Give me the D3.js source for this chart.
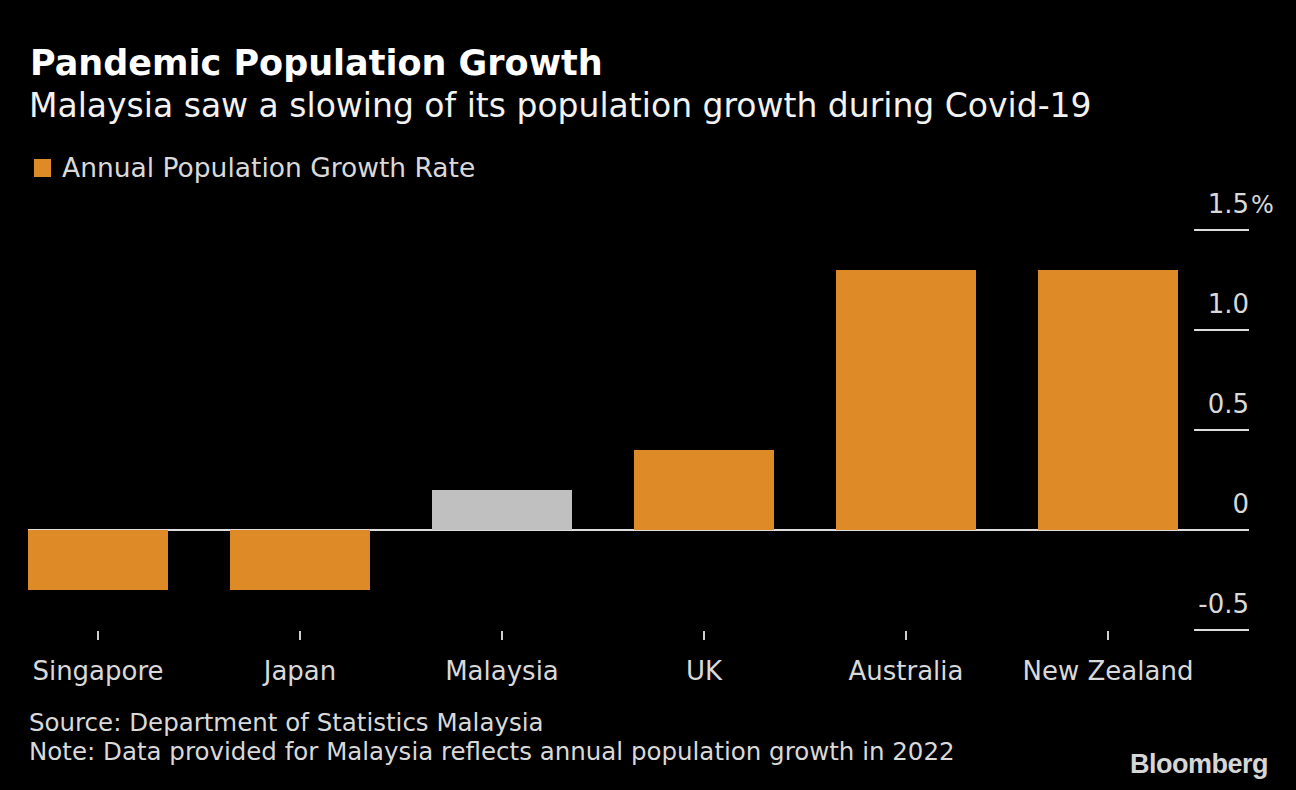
<!DOCTYPE html>
<html>
<head>
<meta charset="utf-8">
<script src="https://cdn.jsdelivr.net/npm/d3@7"></script>
<style>
  html, body { margin: 0; padding: 0; background: #000; }
  svg { display: block; }
  text { font-family: "DejaVu Sans", sans-serif; }
</style>
</head>
<body>
<svg id="chart" width="1296" height="790"></svg>
<script>
const categories = ["Singapore", "Japan", "Malaysia", "UK", "Australia", "New Zealand"];
const growthRates = [-0.3, -0.3, 0.2, 0.4, 1.3, 1.3];
const highlighted = ["Malaysia"];
const yTickValues = [-0.5, 0, 0.5, 1.0, 1.5];
const yTickLabels = ["-0.5", "0", "0.5", "1.0", "1.5"];
const titleText = "Pandemic Population Growth";
const subtitleText = "Malaysia saw a slowing of its population growth during Covid-19";
const legendText = "Annual Population Growth Rate";
const sourceText = "Source: Department of Statistics Malaysia";
const noteText = "Note: Data provided for Malaysia reflects annual population growth in 2022";

const ORANGE = "#de8a26";
const GRAY = "#c0c0c0";
const LINE = "#dcdcdc";
const TEXT = "#d9d9d9";

const svg = d3.select("#chart");
svg.append("rect").attr("width", 1296).attr("height", 790).attr("fill", "#000");

// Header
svg.append("text").attr("x", 30).attr("y", 75).attr("fill", "#fff")
  .attr("font-size", 35).attr("font-weight", "bold").text(titleText);
svg.append("text").attr("x", 29).attr("y", 117).attr("fill", "#f2f2f2")
  .attr("font-size", 33).text(subtitleText);

// Legend
svg.append("rect").attr("x", 34).attr("y", 159).attr("width", 17).attr("height", 18).attr("fill", ORANGE);
svg.append("text").attr("x", 62).attr("y", 177).attr("fill", TEXT)
  .attr("font-size", 26.5).text(legendText);

// Scales
const x = d3.scaleBand().domain(categories).range([28, 1178])
  .paddingInner(62 / 202).paddingOuter(0);
const y = d3.scaleLinear().domain([-0.5, 1.5]).range([630, 230]);

const gridX0 = 1194, gridX1 = 1249;

// Y gridlines (right side)
svg.append("g").selectAll("line").data(yTickValues.filter(d => d !== 0)).join("line")
  .attr("x1", gridX0).attr("x2", gridX1)
  .attr("y1", d => y(d)).attr("y2", d => y(d))
  .attr("stroke", LINE).attr("stroke-width", 2);

// Zero line
svg.append("line").attr("x1", x.range()[0]).attr("x2", gridX1)
  .attr("y1", y(0)).attr("y2", y(0)).attr("stroke", LINE).attr("stroke-width", 2);

// Y labels
svg.append("g").selectAll("text").data(yTickValues).join("text")
  .attr("x", gridX1).attr("y", d => y(d) - 17)
  .attr("text-anchor", "end").attr("fill", TEXT).attr("font-size", 26)
  .text((d, i) => yTickLabels[i]);
svg.append("text").attr("x", gridX1 + 2).attr("y", y(1.5) - 17)
  .attr("fill", TEXT).attr("font-size", 24).text("%");

// Bars
svg.append("g").selectAll("rect").data(categories).join("rect")
  .attr("x", d => x(d))
  .attr("width", x.bandwidth())
  .attr("y", (d, i) => y(Math.max(0, growthRates[i])))
  .attr("height", (d, i) => Math.abs(y(growthRates[i]) - y(0)))
  .attr("fill", d => highlighted.includes(d) ? GRAY : ORANGE);

// X ticks and labels
const xg = svg.append("g");
xg.selectAll("line").data(categories).join("line")
  .attr("x1", d => x(d) + x.bandwidth() / 2).attr("x2", d => x(d) + x.bandwidth() / 2)
  .attr("y1", 631).attr("y2", 640).attr("stroke", "#cfcfcf").attr("stroke-width", 2);
xg.selectAll("text").data(categories).join("text")
  .attr("x", d => x(d) + x.bandwidth() / 2).attr("y", 680)
  .attr("text-anchor", "middle").attr("fill", TEXT).attr("font-size", 26)
  .text(d => d);

// Footer
svg.append("text").attr("x", 29).attr("y", 731).attr("fill", TEXT)
  .attr("font-size", 24.5).text(sourceText);
svg.append("text").attr("x", 29).attr("y", 760).attr("fill", TEXT)
  .attr("font-size", 24.5).text(noteText);
svg.append("text").attr("x", 1268).attr("y", 773).attr("text-anchor", "end")
  .attr("fill", "#d6d6d6").attr("font-size", 27).attr("font-weight", "bold")
  .style("font-family", "'Liberation Sans', Arial, sans-serif")
  .attr("letter-spacing", -0.5).text("Bloomberg");
</script>
</body>
</html>
